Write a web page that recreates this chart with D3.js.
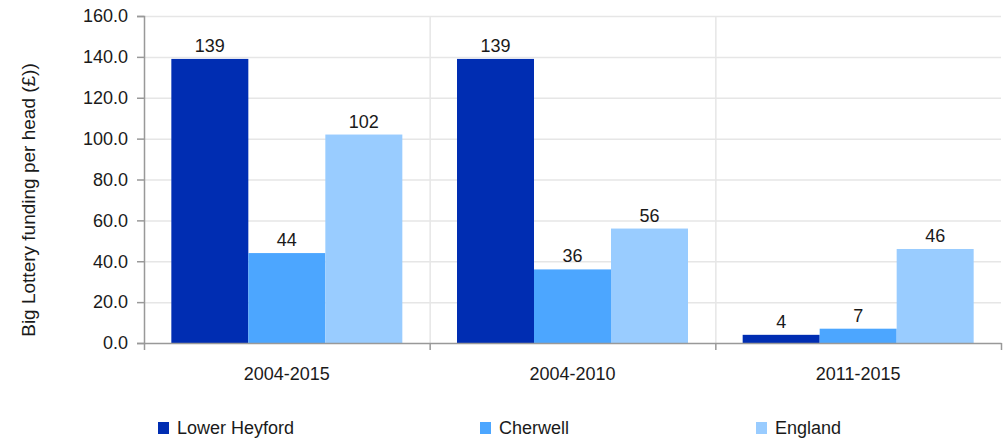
<!DOCTYPE html>
<html><head><meta charset="utf-8">
<script src="https://cdn.jsdelivr.net/npm/d3@7"></script>
<style>body{margin:0;background:#fff}svg{display:block}text{font-family:"Liberation Sans",Arial,sans-serif;fill:#1a1a1a}</style>
</head><body><svg id="c" width="1006" height="438"></svg>
<script>
const categories = ["2004-2015", "2004-2010", "2011-2015"];
const seriesNames = ["Lower Heyford", "Cherwell", "England"];
const lowerHeyford = [139, 139, 4];
const cherwell = [44, 36, 7];
const england = [102, 56, 46];
const colors = ["#002DB2", "#4CA6FF", "#99CCFF"];
const yTicks = [0, 20, 40, 60, 80, 100, 120, 140, 160];

const series = [lowerHeyford, cherwell, england];
const FONT = "Liberation Sans, Arial, sans-serif";
const svg = d3.select("#c");
const m = {l: 144, r: 1001, t: 16, b: 343};
const x = d3.scaleBand().domain(categories).range([m.l, m.r]).paddingInner(0).paddingOuter(0);
const x1 = d3.scaleBand().domain(seriesNames).range([0, x.bandwidth()]).paddingOuter(0.355).paddingInner(0);
const y = d3.scaleLinear().domain([0, 160]).range([m.b, m.t]);

// horizontal gridlines
svg.append("g").selectAll("line").data(yTicks.slice(1)).join("line")
  .attr("x1", m.l).attr("x2", m.r).attr("y1", d => y(d) + 0.5).attr("y2", d => y(d) + 0.5)
  .attr("stroke", "#e6e6e6").attr("stroke-width", 1.5);
// vertical gridlines
svg.append("g").selectAll("line").data(categories.slice(1)).join("line")
  .attr("x1", d => x(d) + 0.5).attr("x2", d => x(d) + 0.5).attr("y1", m.t).attr("y2", m.b)
  .attr("stroke", "#e6e6e6").attr("stroke-width", 1.5);

// bars
const g = svg.append("g");
categories.forEach((c, ci) => {
  seriesNames.forEach((s, si) => {
    const v = series[si][ci];
    g.append("rect").attr("x", x(c) + x1(s)).attr("width", x1.bandwidth())
      .attr("y", y(v)).attr("height", y(0) - y(v)).attr("fill", colors[si]);
    g.append("text").attr("x", x(c) + x1(s) + x1.bandwidth() / 2).attr("y", y(v) - 7)
      .attr("text-anchor", "middle").attr("font-size", 18).text(v);
  });
});

// y axis
const ya = svg.append("g").attr("transform", `translate(${m.l},0)`)
  .call(d3.axisLeft(y).tickValues(yTicks).tickFormat(d3.format(".1f")).tickSize(7).tickPadding(9));
ya.select(".domain").attr("stroke", "#999").attr("stroke-width", 1.5);
ya.selectAll(".tick line").attr("stroke", "#999").attr("stroke-width", 1.5);
ya.selectAll(".tick text").attr("font-size", 18).attr("font-family", FONT).attr("fill", "#1a1a1a");

// x axis
const xa = svg.append("g").attr("transform", `translate(0,${m.b})`)
  .call(d3.axisBottom(x).tickSize(0).tickPadding(24));
xa.select(".domain").attr("stroke", "#999").attr("stroke-width", 1.5);
xa.selectAll(".tick text").attr("font-size", 18).attr("font-family", FONT).attr("fill", "#1a1a1a");
// boundary ticks
const bounds = [m.l, ...categories.slice(1).map(c => x(c)), m.r];
svg.append("g").selectAll("line").data(bounds).join("line")
  .attr("x1", d => d + 0.5).attr("x2", d => d + 0.5).attr("y1", m.b).attr("y2", m.b + 7)
  .attr("stroke", "#999").attr("stroke-width", 1.5);

// y label
svg.append("text").attr("transform", `translate(35,200) rotate(-90)`)
  .attr("text-anchor", "middle").attr("font-size", 19).text("Big Lottery funding per head (£))");

// legend
const legX = [158, 480, 756];
const lg = svg.append("g");
seriesNames.forEach((s, i) => {
  lg.append("rect").attr("x", legX[i]).attr("y", 422).attr("width", 11).attr("height", 12).attr("fill", colors[i]);
  lg.append("text").attr("x", legX[i] + 19).attr("y", 434).attr("font-size", 18).text(s);
});
</script></body></html>
